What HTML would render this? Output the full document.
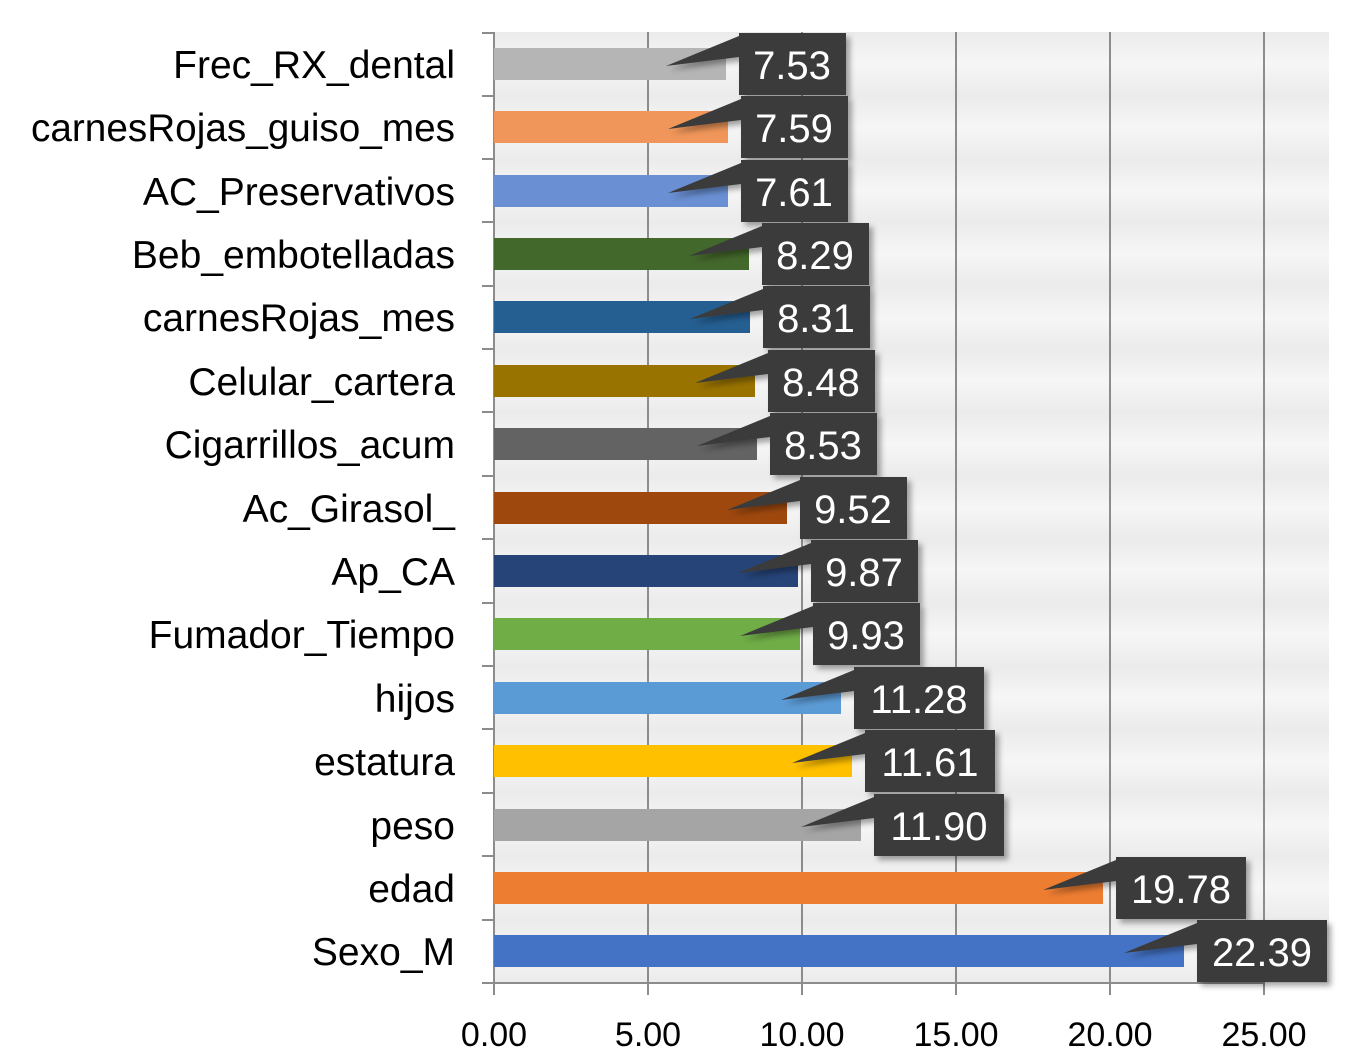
<!DOCTYPE html>
<html><head><meta charset="utf-8"><style>
html,body{margin:0;padding:0;background:#fff;}
svg{display:block;font-family:"Liberation Sans",sans-serif;}
</style></head><body>
<svg width="1357" height="1061" viewBox="0 0 1357 1061" xmlns="http://www.w3.org/2000/svg">
<defs>
<linearGradient id="bg" x1="0" y1="0" x2="0" y2="1">
<stop offset="0" stop-color="#ebebeb"/><stop offset="0.5" stop-color="#f6f6f6"/><stop offset="1" stop-color="#ebebeb"/>
</linearGradient>
<pattern id="rowbg" x="0" y="32" width="10" height="63.4" patternUnits="userSpaceOnUse">
<rect width="10" height="63.4" fill="url(#bg)"/>
</pattern>
<filter id="sh" x="-20%" y="-20%" width="150%" height="150%"><feDropShadow dx="4" dy="4" stdDeviation="3" flood-color="#000" flood-opacity="0.35"/></filter>
</defs>
<rect x="494" y="32" width="835" height="951" fill="url(#rowbg)"/>
<g stroke="#8c8c8c" stroke-width="2">
<line x1="648" y1="32" x2="648" y2="983"/><line x1="802" y1="32" x2="802" y2="983"/>
<line x1="956" y1="32" x2="956" y2="983"/><line x1="1110" y1="32" x2="1110" y2="983"/>
<line x1="1264" y1="32" x2="1264" y2="983"/>
</g>
<g stroke="#8c8c8c" stroke-width="2">
<line x1="494" y1="32" x2="494" y2="995"/><line x1="482" y1="983" x2="1264" y2="983"/>
<line x1="482" y1="33" x2="494" y2="33"/><line x1="482" y1="96" x2="494" y2="96"/><line x1="482" y1="159" x2="494" y2="159"/><line x1="482" y1="222" x2="494" y2="222"/><line x1="482" y1="286" x2="494" y2="286"/><line x1="482" y1="349" x2="494" y2="349"/><line x1="482" y1="412" x2="494" y2="412"/><line x1="482" y1="476" x2="494" y2="476"/><line x1="482" y1="539" x2="494" y2="539"/><line x1="482" y1="603" x2="494" y2="603"/><line x1="482" y1="666" x2="494" y2="666"/><line x1="482" y1="729" x2="494" y2="729"/><line x1="482" y1="793" x2="494" y2="793"/><line x1="482" y1="856" x2="494" y2="856"/><line x1="482" y1="920" x2="494" y2="920"/>
<line x1="648" y1="983" x2="648" y2="995"/><line x1="802" y1="983" x2="802" y2="995"/><line x1="956" y1="983" x2="956" y2="995"/><line x1="1110" y1="983" x2="1110" y2="995"/><line x1="1264" y1="983" x2="1264" y2="995"/>
</g>
<g>
<rect x="494" y="48" width="232" height="32" fill="#b5b5b5"/>
<rect x="494" y="111" width="234" height="32" fill="#f0965a"/>
<rect x="494" y="175" width="234" height="32" fill="#6a8fd3"/>
<rect x="494" y="238" width="255" height="32" fill="#43682b"/>
<rect x="494" y="301" width="256" height="32" fill="#255e91"/>
<rect x="494" y="365" width="261" height="32" fill="#997300"/>
<rect x="494" y="428" width="263" height="32" fill="#636363"/>
<rect x="494" y="492" width="293" height="32" fill="#9e480e"/>
<rect x="494" y="555" width="304" height="32" fill="#264478"/>
<rect x="494" y="618" width="306" height="32" fill="#70ad47"/>
<rect x="494" y="682" width="347" height="32" fill="#5b9bd5"/>
<rect x="494" y="745" width="358" height="32" fill="#ffc000"/>
<rect x="494" y="809" width="367" height="32" fill="#a5a5a5"/>
<rect x="494" y="872" width="609" height="32" fill="#ed7d31"/>
<rect x="494" y="935" width="690" height="32" fill="#4472c4"/>
</g>
<g fill="#3a3a3a" filter="url(#sh)">
<polygon points="739,36 739,57 666,66"/><rect x="739" y="33" width="107" height="62"/>
<polygon points="741,99 741,120 668,129"/><rect x="741" y="96" width="107" height="62"/>
<polygon points="741,163 741,184 668,193"/><rect x="741" y="160" width="107" height="62"/>
<polygon points="762,226 762,247 689,256"/><rect x="762" y="223" width="107" height="62"/>
<polygon points="763,289 763,310 690,319"/><rect x="763" y="286" width="107" height="62"/>
<polygon points="768,353 768,374 695,383"/><rect x="768" y="350" width="107" height="62"/>
<polygon points="770,416 770,437 697,446"/><rect x="770" y="413" width="107" height="62"/>
<polygon points="800,480 800,501 727,510"/><rect x="800" y="477" width="107" height="62"/>
<polygon points="811,543 811,564 738,573"/><rect x="811" y="540" width="107" height="62"/>
<polygon points="813,606 813,627 740,636"/><rect x="813" y="603" width="107" height="62"/>
<polygon points="854,670 854,691 781,700"/><rect x="854" y="667" width="130" height="62"/>
<polygon points="865,733 865,754 792,763"/><rect x="865" y="730" width="130" height="62"/>
<polygon points="874,797 874,818 801,827"/><rect x="874" y="794" width="130" height="62"/>
<polygon points="1116,860 1116,881 1043,890"/><rect x="1116" y="857" width="130" height="62"/>
<polygon points="1197,923 1197,944 1124,953"/><rect x="1197" y="920" width="130" height="62"/>
</g>
<g fill="#fff" font-size="40" text-anchor="middle">
<text x="792" y="79">7.53</text><text x="794" y="142">7.59</text><text x="794" y="206">7.61</text>
<text x="815" y="269">8.29</text><text x="816" y="332">8.31</text><text x="821" y="396">8.48</text>
<text x="823" y="459">8.53</text><text x="853" y="523">9.52</text><text x="864" y="586">9.87</text>
<text x="866" y="649">9.93</text><text x="919" y="713">11.28</text><text x="930" y="776">11.61</text>
<text x="939" y="840">11.90</text><text x="1181" y="903">19.78</text><text x="1262" y="966">22.39</text>
</g>
<g fill="#000" font-size="39" text-anchor="end">
<text x="455" y="78">Frec_RX_dental</text>
<text x="455" y="141" textLength="424" lengthAdjust="spacingAndGlyphs">carnesRojas_guiso_mes</text>
<text x="455" y="205">AC_Preservativos</text>
<text x="455" y="268">Beb_embotelladas</text>
<text x="455" y="331">carnesRojas_mes</text>
<text x="455" y="395">Celular_cartera</text>
<text x="455" y="458">Cigarrillos_acum</text>
<text x="455" y="522">Ac_Girasol_</text>
<text x="455" y="585">Ap_CA</text>
<text x="455" y="648">Fumador_Tiempo</text>
<text x="455" y="712">hijos</text>
<text x="455" y="775">estatura</text>
<text x="455" y="839">peso</text>
<text x="455" y="902">edad</text>
<text x="455" y="965">Sexo_M</text>
</g>
<g fill="#000" font-size="34" text-anchor="middle">
<text x="494" y="1046">0.00</text><text x="648" y="1046">5.00</text><text x="802" y="1046">10.00</text>
<text x="956" y="1046">15.00</text><text x="1110" y="1046">20.00</text><text x="1264" y="1046">25.00</text>
</g>
</svg>
</body></html>
